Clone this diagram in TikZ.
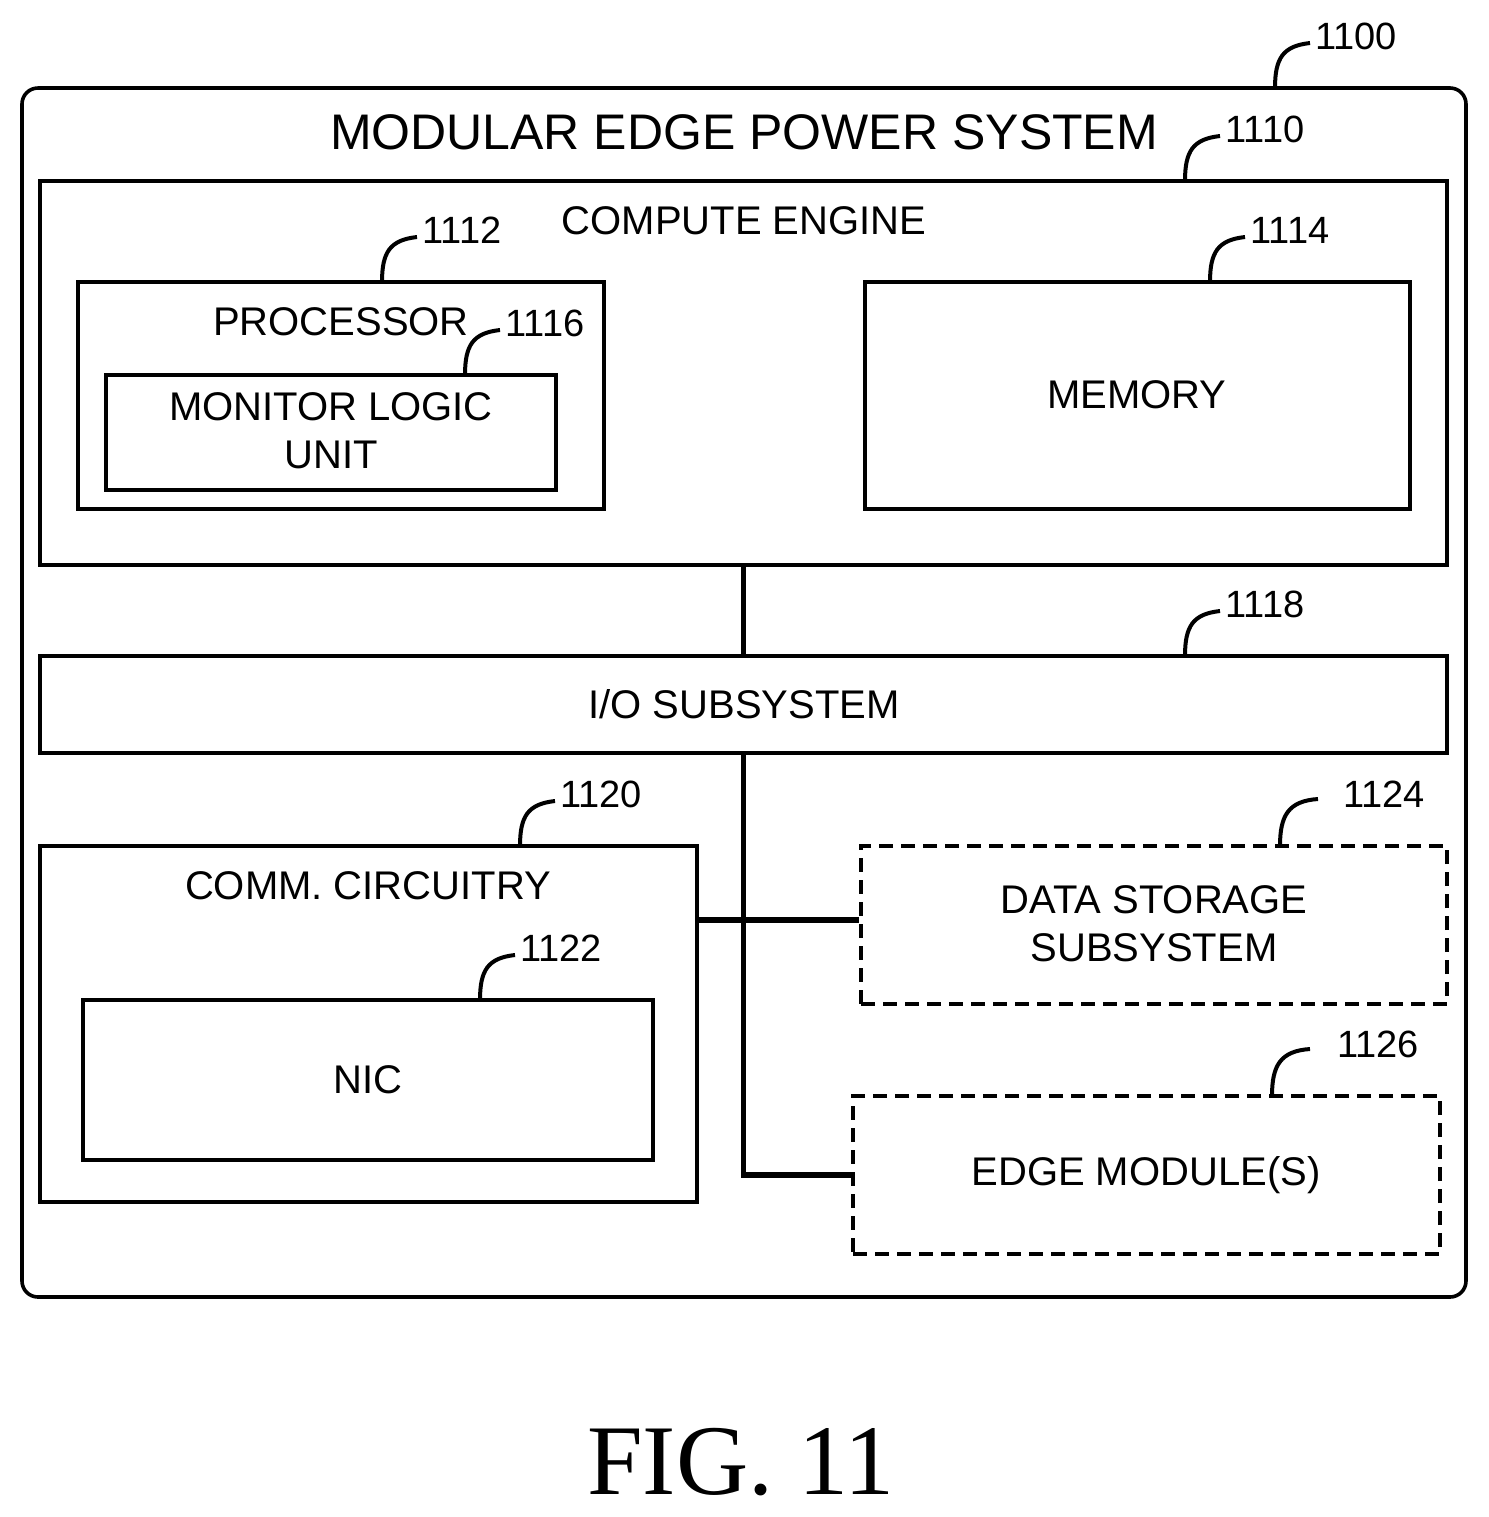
\documentclass[tikz,border=0pt]{standalone}
\usepackage{fontspec}
\setmainfont{Liberation Sans}
\newfontfamily\figfont{Liberation Serif}
\begin{document}
\begin{tikzpicture}[x=0.5pt,y=-0.5pt,
  box/.style={draw,line width=1.8pt,inner sep=0pt},
  dbox/.style={box,dash pattern=on 7pt off 4pt},
  conn/.style={line width=2.6pt},
  lead/.style={line width=2pt},
  txt/.style={font=\fontsize{20}{24}\selectfont,align=center,inner sep=0pt},
  num/.style={font=\fontsize{19}{23}\selectfont,anchor=west,inner sep=0pt}]
\useasboundingbox (0,0) rectangle (1489,1517);
% boxes
\node[box,rounded corners=8pt,minimum width=722pt,minimum height=604.5pt] (outer) at (744,692.5) {};
\node[box,minimum width=703.5pt,minimum height=192pt] (ce) at (743.5,373) {};
\node[box,minimum width=263pt,minimum height=113.5pt] (proc) at (341,395.5) {};
\node[box,minimum width=225pt,minimum height=57.5pt] (mon) at (331,432.5) {};
\node[box,minimum width=272.5pt,minimum height=113.5pt] (mem) at (1137.5,395.5) {};
\node[box,minimum width=703.5pt,minimum height=48.5pt] (io) at (743.5,704.5) {};
\node[box,minimum width=328.5pt,minimum height=178pt] (comm) at (368.5,1024) {};
\node[box,minimum width=285pt,minimum height=80pt] (nic) at (368,1080) {};
\node[dbox,minimum width=293pt,minimum height=79pt] (ds) at (1154,925) {};
\node[dbox,minimum width=293.5pt,minimum height=79pt] (em) at (1146.5,1175) {};
% texts
\node[txt,font=\fontsize{25}{29}\selectfont] (t0) at (744,132) {MODULAR EDGE POWER SYSTEM};
\node[txt] (t1) at (744,221) {COMPUTE ENGINE};
\node[txt] (t2) at (341,322) {PROCESSOR};
\node[txt] (t3) at (331,431) {MONITOR LOGIC\\UNIT};
\node[txt] (t4) at (1137,395) {MEMORY};
\node[txt] (t5) at (744,704) {I/O SUBSYSTEM};
\node[txt] (t6) at (368,886) {COMM. CIRCUITRY};
\node[txt] (t7) at (368,1080) {NIC};
\node[txt] (t8) at (1154,924) {DATA STORAGE\\SUBSYSTEM};
\node[txt] (t9) at (1146,1175) {EDGE MODULE(S)};
\node[font=\figfont\fontsize{50}{56}\selectfont,inner sep=0pt] (fig) at (741,1462) {FIG. 11};
% connectors
\coordinate (hj) at (0,920);
\draw[conn] (ce.south) -- (io.north);
\draw[conn] (io.south) |- (em.west);
\draw[conn] (comm.east |- hj) -- (ds.west |- hj);
% leaders
\newcommand\leaderlab[4]{%
 \coordinate (#4) at (#1,#2);
 \draw[lead] (#4) .. controls (#1,#2-30) and (#1+8,#2-42) .. (#1+35,#2-45);
 \node[num] at (#1+40,#2-52) {#3};}
\leaderlab{1275}{88}{1100}{l1}
\leaderlab{1185}{181}{1110}{l2}
\leaderlab{382}{282}{1112}{l3}
\leaderlab{1210}{282}{1114}{l4}
\leaderlab{465}{375}{1116}{l5}
\leaderlab{1185}{656}{1118}{l6}
\leaderlab{520}{846}{1120}{l7}
\leaderlab{480}{1000}{1122}{l8}
\draw[lead] (1280,846) .. controls (1280,816) and (1288,801) .. (1318,799);
\node[num] (n24) at (1343,794) {1124};
\draw[lead] (1272,1096) .. controls (1272,1066) and (1280,1051) .. (1310,1049);
\node[num] (n26) at (1337,1044) {1126};
\end{tikzpicture}
\end{document}
